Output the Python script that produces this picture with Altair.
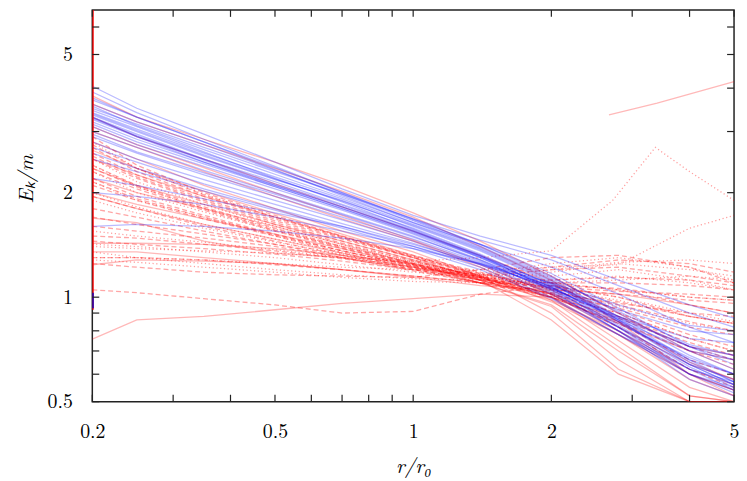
import altair as alt
import pandas as pd

# ---------------- data ----------------
R_GRID = [0.2, 0.25, 0.35, 0.5, 0.7, 1.0, 1.4, 2.0, 2.8, 4.0, 5.0]

BLUE_LINES = [
    [4.05, 3.50, 2.95, 2.45, 2.05, 1.72, 1.50, 1.32, 1.12, 0.95, 0.87],
    [3.90, 3.40, 2.85, 2.38, 2.00, 1.68, 1.46, 1.28, 1.08, 0.90, 0.82],
    [3.70, 3.30, 2.80, 2.33, 1.96, 1.64, 1.42, 1.22, 1.02, 0.82, 0.74],
    [3.50, 3.15, 2.70, 2.30, 1.98, 1.68, 1.42, 1.15, 0.90, 0.70, 0.62],
    [3.40, 3.05, 2.60, 2.22, 1.92, 1.62, 1.38, 1.12, 0.87, 0.66, 0.57],
    [3.35, 3.00, 2.55, 2.18, 1.90, 1.60, 1.36, 1.10, 0.85, 0.64, 0.56],
    [3.30, 2.95, 2.50, 2.15, 1.85, 1.58, 1.33, 1.08, 0.83, 0.63, 0.55],
    [3.20, 2.85, 2.45, 2.10, 1.82, 1.55, 1.30, 1.06, 0.82, 0.62, 0.54],
    [3.10, 2.75, 2.38, 2.05, 1.78, 1.52, 1.28, 1.04, 0.80, 0.60, 0.53],
    [3.00, 2.70, 2.32, 2.00, 1.74, 1.50, 1.27, 1.05, 0.84, 0.67, 0.60],
    [2.90, 2.60, 2.25, 1.95, 1.70, 1.47, 1.26, 1.06, 0.87, 0.72, 0.66],
    [2.80, 2.50, 2.18, 1.90, 1.67, 1.45, 1.25, 1.03, 0.82, 0.64, 0.58],
    [2.70, 2.45, 2.12, 1.85, 1.63, 1.43, 1.24, 1.02, 0.80, 0.62, 0.56],
    [2.60, 2.35, 2.05, 1.80, 1.60, 1.40, 1.22, 1.00, 0.78, 0.60, 0.55],
    [3.45, 3.10, 2.62, 2.20, 1.88, 1.57, 1.32, 1.05, 0.80, 0.58, 0.52],
    [3.30, 2.90, 2.45, 2.08, 1.80, 1.53, 1.30, 1.07, 0.86, 0.70, 0.66],
    [2.20, 2.10, 1.92, 1.75, 1.60, 1.42, 1.25, 1.06, 0.88, 0.76, 0.74],
    [2.00, 1.95, 1.85, 1.70, 1.55, 1.40, 1.24, 1.08, 0.92, 0.80, 0.78],
    [1.60, 1.62, 1.60, 1.55, 1.48, 1.38, 1.25, 1.10, 0.95, 0.83, 0.80],
    [3.60, 3.20, 2.75, 2.32, 1.98, 1.66, 1.40, 1.14, 0.91, 0.73, 0.68],
    [3.25, 2.90, 2.50, 2.12, 1.84, 1.56, 1.31, 1.07, 0.82, 0.60, 0.54],
    [2.50, 2.30, 2.02, 1.78, 1.58, 1.38, 1.20, 0.99, 0.78, 0.62, 0.57],
    [3.38, 3.02, 2.57, 2.19, 1.89, 1.61, 1.37, 1.11, 0.86, 0.65, 0.57],
    [3.15, 2.80, 2.42, 2.08, 1.80, 1.54, 1.31, 1.09, 0.88, 0.72, 0.68],
    [3.55, 3.12, 2.66, 2.26, 1.94, 1.64, 1.39, 1.13, 0.88, 0.68, 0.60],
    [2.95, 2.62, 2.28, 1.98, 1.73, 1.49, 1.28, 1.07, 0.85, 0.66, 0.60],
    [3.75, 3.30, 2.80, 2.36, 2.00, 1.67, 1.42, 1.17, 0.93, 0.72, 0.64],
    [3.28, 2.92, 2.48, 2.10, 1.82, 1.55, 1.32, 1.09, 0.86, 0.64, 0.56],
]

RED_SOLID_LINES = [
    [3.80, 3.30, 2.85, 2.45, 2.10, 1.75, 1.45, 1.15, 0.90, 0.70, 0.62],
    [3.60, 3.20, 2.75, 2.35, 2.02, 1.70, 1.40, 1.12, 0.85, 0.60, 0.52],
    [3.00, 2.70, 2.30, 1.95, 1.68, 1.45, 1.22, 0.98, 0.72, 0.52, 0.50],
    [2.80, 2.50, 2.10, 1.80, 1.55, 1.35, 1.15, 0.90, 0.62, 0.50, 0.50],
    [2.50, 2.25, 1.95, 1.70, 1.50, 1.30, 1.12, 0.86, 0.60, 0.50, 0.50],
    [1.69, 1.64, 1.45, 1.34, 1.30, 1.22, 1.12, 1.00, 0.75, 0.55, 0.50],
    [1.43, 1.43, 1.42, 1.38, 1.32, 1.25, 1.15, 1.02, 0.80, 0.60, 0.54],
    [1.24, 1.28, 1.27, 1.25, 1.20, 1.15, 1.10, 1.03, 0.85, 0.65, 0.58],
    [0.757, 0.86, 0.88, 0.92, 0.96, 0.99, 1.02, 1.00, 0.78, 0.58, 0.52],
    [2.20, 2.00, 1.80, 1.60, 1.42, 1.25, 1.10, 0.95, 0.70, 0.52, 0.50],
    [3.30, 2.90, 2.50, 2.12, 1.82, 1.55, 1.32, 1.10, 0.88, 0.72, 0.68],
    [2.00, 1.85, 1.68, 1.52, 1.38, 1.24, 1.12, 0.98, 0.80, 0.62, 0.56],
    [1.35, 1.35, 1.30, 1.25, 1.20, 1.14, 1.08, 1.05, 1.02, 0.95, 0.90],
    [2.65, 2.35, 2.02, 1.74, 1.52, 1.32, 1.15, 0.97, 0.78, 0.60, 0.54],
    [3.10, 2.75, 2.36, 2.00, 1.72, 1.46, 1.24, 1.02, 0.82, 0.64, 0.58],
    [1.95, 1.80, 1.62, 1.47, 1.34, 1.22, 1.10, 0.94, 0.66, 0.50, 0.50],
    [2.35, 2.10, 1.85, 1.62, 1.45, 1.28, 1.14, 1.00, 0.84, 0.70, 0.66],
]
RED_SOLID_SHORT_R = [2.67, 3.4, 5.0]
RED_SOLID_SHORT_E = [3.35, 3.62, 4.18]

RED_DASHED_LINES = [
    [2.90, 2.40, 2.00, 1.72, 1.50, 1.32, 1.18, 1.05, 0.92, 0.78, 0.72],
    [2.70, 2.30, 1.95, 1.68, 1.48, 1.30, 1.16, 1.04, 0.95, 0.85, 0.80],
    [2.50, 2.20, 1.88, 1.62, 1.43, 1.27, 1.14, 1.02, 0.90, 0.76, 0.70],
    [2.40, 2.10, 1.82, 1.58, 1.40, 1.25, 1.13, 1.03, 0.96, 0.90, 0.88],
    [2.30, 2.05, 1.78, 1.55, 1.38, 1.24, 1.12, 1.00, 0.85, 0.70, 0.64],
    [2.20, 1.95, 1.72, 1.52, 1.36, 1.23, 1.12, 1.06, 1.02, 0.98, 0.96],
    [2.10, 1.90, 1.68, 1.50, 1.34, 1.21, 1.10, 1.00, 0.88, 0.74, 0.68],
    [1.95, 1.80, 1.60, 1.45, 1.32, 1.20, 1.10, 1.02, 0.93, 0.82, 0.78],
    [1.80, 1.70, 1.55, 1.42, 1.30, 1.19, 1.10, 1.08, 1.06, 1.00, 0.98],
    [1.60, 1.55, 1.48, 1.40, 1.30, 1.20, 1.12, 1.10, 1.10, 1.08, 1.05],
    [1.45, 1.42, 1.38, 1.33, 1.27, 1.20, 1.15, 1.20, 1.22, 1.15, 1.10],
    [1.30, 1.30, 1.28, 1.24, 1.20, 1.15, 1.10, 1.10, 1.05, 0.95, 0.90],
    [1.05, 1.03, 0.99, 0.95, 0.90, 0.91, 1.02, 1.08, 1.00, 0.88, 0.84],
    [1.25, 1.22, 1.18, 1.16, 1.15, 1.14, 1.20, 1.30, 1.32, 1.22, 1.10],
    [2.60, 2.25, 1.92, 1.66, 1.47, 1.30, 1.15, 1.02, 0.82, 0.62, 0.55],
    [2.35, 2.08, 1.80, 1.56, 1.39, 1.25, 1.13, 1.01, 0.87, 0.72, 0.66],
    [2.75, 2.35, 1.97, 1.70, 1.49, 1.31, 1.17, 1.06, 0.97, 0.88, 0.84],
    [2.15, 1.92, 1.70, 1.51, 1.36, 1.23, 1.13, 1.07, 1.04, 1.02, 1.00],
    [1.70, 1.62, 1.52, 1.42, 1.32, 1.22, 1.14, 1.12, 1.14, 1.12, 1.08],
    [2.55, 2.22, 1.90, 1.64, 1.45, 1.28, 1.14, 1.00, 0.84, 0.66, 0.60],
    [1.50, 1.48, 1.42, 1.36, 1.29, 1.21, 1.16, 1.22, 1.28, 1.25, 1.18],
]

RED_DOTTED_LINES = [
    [2.80, 2.35, 1.98, 1.70, 1.49, 1.31, 1.17, 1.05, 0.94, 0.84, 0.80],
    [2.30, 2.00, 1.76, 1.55, 1.40, 1.26, 1.16, 1.10, 1.05, 1.00, 0.98],
    [2.00, 1.82, 1.62, 1.47, 1.35, 1.24, 1.16, 1.15, 1.20, 1.12, 1.05],
    [1.30, 1.30, 1.28, 1.25, 1.22, 1.20, 1.20, 1.22, 1.24, 1.58, 1.72],
    [1.35, 1.30, 1.25, 1.20, 1.16, 1.13, 1.12, 1.18, 1.25, 1.20, 1.15],
    [2.50, 2.15, 1.85, 1.60, 1.42, 1.27, 1.14, 1.02, 0.90, 0.76, 0.70],
    [1.90, 1.75, 1.58, 1.44, 1.33, 1.23, 1.14, 1.08, 1.00, 0.90, 0.85],
    [2.15, 1.90, 1.70, 1.50, 1.36, 1.24, 1.14, 1.10, 1.12, 1.15, 1.12],
    [1.42, 1.40, 1.35, 1.30, 1.24, 1.18, 1.14, 1.20, 1.26, 1.28, 1.25],
    [2.40, 2.08, 1.80, 1.57, 1.40, 1.26, 1.15, 1.06, 0.98, 0.88, 0.84],
    [1.55, 1.50, 1.44, 1.37, 1.30, 1.22, 1.17, 1.25, 1.30, 1.22, 1.12],
    [1.28, 1.26, 1.22, 1.18, 1.14, 1.11, 1.10, 1.12, 1.15, 1.10, 1.05],
]
RED_DOTTED_PEAK_R = [0.2, 0.25, 0.35, 0.5, 0.7, 1.0, 1.4, 2.0, 2.72, 3.37, 4.0, 5.0]
RED_DOTTED_PEAK_E = [1.40, 1.38, 1.36, 1.34, 1.30, 1.27, 1.30, 1.36, 1.90, 2.70, 2.30, 1.90]

# steep segments hugging the left border at r = 0.2
EDGE_RED_E = [7.0, 0.92]
EDGE_BLUE_E = [1.03, 0.93]
EDGE_R = [0.2, 0.2]

X_TICKS = [0.2, 0.3, 0.4, 0.5, 0.6, 0.7, 0.8, 0.9, 1, 2, 3, 4, 5]
Y_TICKS = [0.5, 0.6, 0.7, 0.8, 0.9, 1, 2, 3, 4, 5, 6]
X_LABELS = [0.2, 0.5, 1, 2, 5]
Y_LABELS = [0.5, 1, 2, 5]
X_DOMAIN = [0.2, 5]
Y_DOMAIN = [0.5, 6.72]

# ---------------- build tables ----------------
def to_frame(lines, grid, prefix):
    rows = []
    for k, vals in enumerate(lines):
        for i, (r, e) in enumerate(zip(grid, vals)):
            rows.append({"id": f"{prefix}{k}", "i": i, "r": r, "E": e})
    return pd.DataFrame(rows)

blue_df = to_frame(BLUE_LINES, R_GRID, "b")
red_solid_df = pd.concat([
    to_frame(RED_SOLID_LINES, R_GRID, "rs"),
    to_frame([RED_SOLID_SHORT_E], RED_SOLID_SHORT_R, "rss"),
])
red_dashed_df = to_frame(RED_DASHED_LINES, R_GRID, "rd")
red_dotted_df = pd.concat([
    to_frame(RED_DOTTED_LINES, R_GRID, "rt"),
    to_frame([RED_DOTTED_PEAK_E], RED_DOTTED_PEAK_R, "rtp"),
])
edge_red_df = to_frame([EDGE_RED_E], EDGE_R, "er")
edge_blue_df = to_frame([EDGE_BLUE_E], EDGE_R, "eb")

xtick_df = pd.DataFrame({"r": X_TICKS})
ytick_df = pd.DataFrame({"E": Y_TICKS})

FONT = "Latin Modern Roman"
W, H = 647, 395

xscale = alt.Scale(type="log", domain=X_DOMAIN, nice=False)
yscale = alt.Scale(type="log", domain=Y_DOMAIN, nice=False)

X = alt.X("r:Q", scale=xscale, title="r/r₀",
          axis=alt.Axis(values=X_LABELS, format="~g", ticks=False, domain=False,
                        grid=False, labelPadding=20, labelFontSize=20, labelFont=FONT,
                        labelFlush=False, labelOverlap=False,
                        labelColor="black", titleFont=FONT, titleFontSize=21,
                        titleFontStyle="italic", titleFontWeight="normal",
                        titleColor="black", titleX=W / 2, titleY=71,
                        titleBaseline="alphabetic", titleAlign="center"))
Y = alt.Y("E:Q", scale=yscale, title="Eₖ/m",
          axis=alt.Axis(values=Y_LABELS, format="~g", ticks=False, domain=False,
                        grid=False, labelPadding=20, labelFontSize=20, labelFont=FONT,
                        labelFlush=False, labelOverlap=False,
                        labelColor="black", titleFont=FONT, titleFontSize=21,
                        titleFontStyle="italic", titleFontWeight="normal",
                        titleColor="black", titleX=-66, titleY=170, titleAngle=270,
                        titleBaseline="middle", titleAlign="center"))

def lines_layer(df, color, dash=None, opacity=0.3, width=1.3):
    kw = dict(color=color, opacity=opacity, strokeWidth=width, clip=True)
    if dash is not None:
        kw["strokeDash"] = dash
    return alt.Chart(df).mark_line(**kw).encode(
        x=X, y=Y, detail="id:N", order="i:Q")

layers = [
    lines_layer(red_dotted_df, "#ff0000", dash=[1.2, 2.6], opacity=0.38),
    lines_layer(red_dashed_df, "#ff0000", dash=[5, 3], opacity=0.35),
    lines_layer(red_solid_df, "#ff0000", opacity=0.28),
    lines_layer(blue_df, "#0000ff", opacity=0.27),
    lines_layer(edge_red_df, "#ff0000", opacity=0.9, width=3),
    lines_layer(edge_blue_df, "#0000cc", opacity=0.9, width=3),
]

TICK = 7
tick_style = dict(color="#222222", strokeWidth=1.2)
layers += [
    alt.Chart(xtick_df).mark_rule(**tick_style).encode(x=X, y=alt.value(H), y2=alt.value(H - TICK)),
    alt.Chart(xtick_df).mark_rule(**tick_style).encode(x=X, y=alt.value(0), y2=alt.value(TICK)),
    alt.Chart(ytick_df).mark_rule(**tick_style).encode(y=Y, x=alt.value(0), x2=alt.value(TICK)),
    alt.Chart(ytick_df).mark_rule(**tick_style).encode(y=Y, x=alt.value(W), x2=alt.value(W - TICK)),
]

chart = alt.layer(*layers).properties(
    width=W, height=H, autosize="none",
    padding={"left": 85, "top": 0, "right": 5, "bottom": 76},
).configure(
    background="white", font=FONT
).configure_axis(
    labelFont=FONT, titleFont=FONT
).configure_view(stroke="#222222", strokeWidth=1.5)

chart.save("out.html", embed_options={"renderer": "svg", "actions": False})
